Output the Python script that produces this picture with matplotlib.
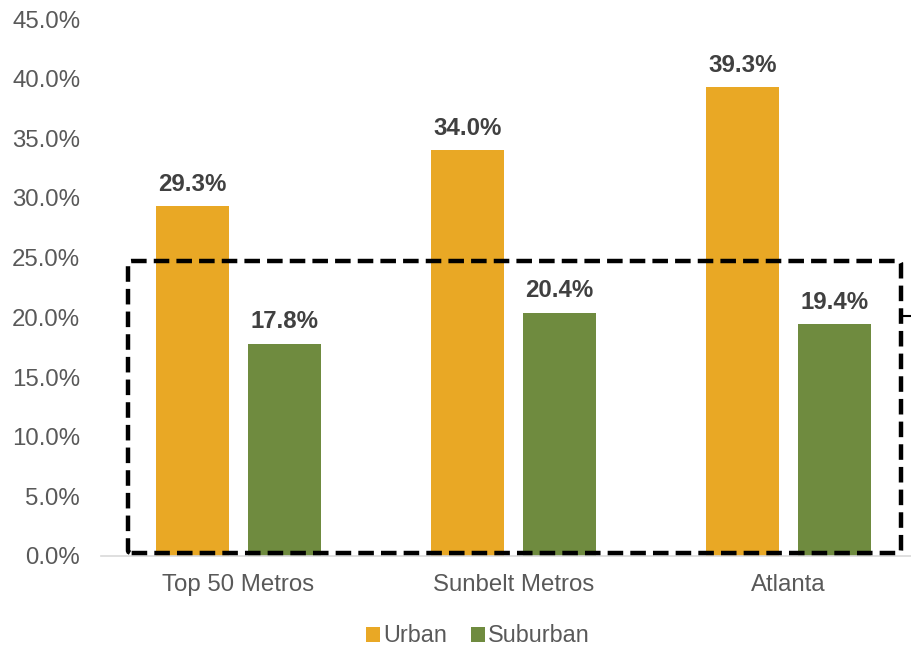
import matplotlib.pyplot as plt
from matplotlib.patches import FancyBboxPatch
from matplotlib.lines import Line2D
from matplotlib.ticker import FuncFormatter

plt.rcParams['font.family'] = ['Liberation Sans', 'DejaVu Sans']

categories = ['Top 50 Metros', 'Sunbelt Metros', 'Atlanta']
urban = [29.3, 34.0, 39.3]
suburban = [17.8, 20.4, 19.4]

c_urban = '#E9A825'
c_sub = '#6F8B3F'
grey = '#595959'

W, H = 912, 647
fig = plt.figure(figsize=(W / 100, H / 100), dpi=100)
# axes runs past the right edge of the figure, like the clipped original
ax = fig.add_axes([101 / W, (H - 556) / H, 825 / W, 537 / H])

x = list(range(len(categories)))
bw = 0.265
off = 0.167
b1 = ax.bar([i - off for i in x], urban, bw, color=c_urban, label='Urban')
b2 = ax.bar([i + off for i in x], suburban, bw, color=c_sub, label='Suburban')

for bars in (b1, b2):
    for r in bars:
        ax.annotate(f'{r.get_height():.1f}%', (r.get_x() + r.get_width() / 2, r.get_height()),
                    xytext=(0, 7.5), textcoords='offset points', ha='center', va='bottom',
                    fontsize=17.3, fontweight='bold', color='#404040')

ax.set_xlim(-0.5, 2.5)
ax.set_ylim(0, 45)
ax.set_yticks(range(0, 46, 5))
ax.yaxis.set_major_formatter(FuncFormatter(lambda v, p: f'{v:.1f}%'))
ax.set_xticks(x)
ax.set_xticklabels(categories)
ax.tick_params(axis='both', length=0, labelsize=17.3, labelcolor=grey)
ax.tick_params(axis='x', pad=13)
ax.tick_params(axis='y', pad=15)
for s in ['top', 'right', 'left']:
    ax.spines[s].set_visible(False)
ax.spines['bottom'].set_color('#D9D9D9')
ax.spines['bottom'].set_linewidth(1.2)

# dashed callout box
box = FancyBboxPatch((128 / W, (H - 553) / H), 773 / W, 292 / H,
                     boxstyle='round,pad=0,rounding_size=0.004',
                     transform=fig.transFigure, fill=False, edgecolor='black',
                     linewidth=3.2, linestyle=(0, (3.5, 1.6)), zorder=5)
fig.add_artist(box)
fig.add_artist(Line2D([901 / W, 1.0], [(H - 316) / H] * 2, transform=fig.transFigure,
                      color='black', linewidth=1.5))

fig.legend(handles=[b1, b2], loc='center', bbox_to_anchor=(478 / W, (H - 636) / H),
           ncol=2, frameon=False, fontsize=16.8, handlelength=0.6, handleheight=0.6,
           handletextpad=0.15, columnspacing=1.0, labelcolor=grey)

fig.savefig('out.png', dpi=100)
